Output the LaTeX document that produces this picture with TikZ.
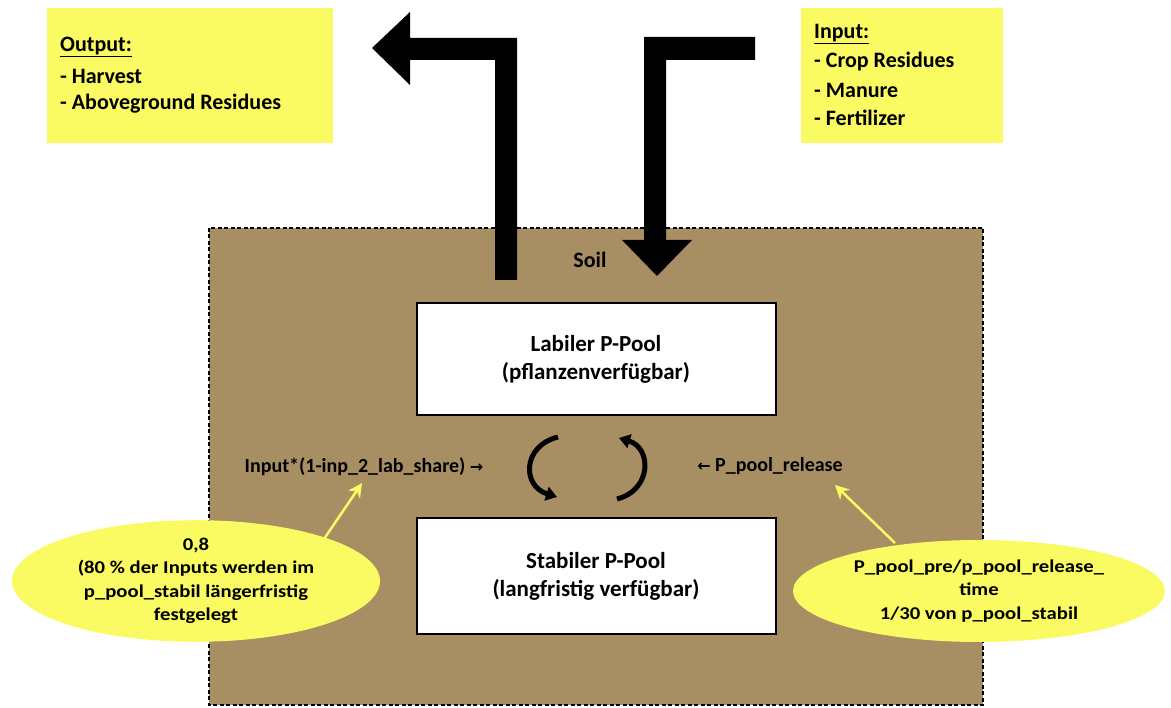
\documentclass[tikz,border=0pt]{standalone}
\usepackage{fontspec}
\setmainfont{Carlito}
\newfontfamily\widefont[FakeStretch=1.15]{Carlito}
\newfontfamily\arrowfont{DejaVu Sans}
\usetikzlibrary{shapes.geometric,arrows.meta}
\definecolor{soilbrown}{RGB}{168,143,99}
\definecolor{noteyellow}{RGB}{250,250,98}
\tikzset{
  notebox/.style={fill=noteyellow, inner sep=0pt},
  listtext/.style={anchor=west, font=\fontsize{22}{26}\selectfont\bfseries, inner sep=0pt},
  poolbox/.style={draw=black, line width=2pt, fill=white, minimum width=359pt, minimum height=112pt,
    align=center, font=\fontsize{23}{28}\selectfont\bfseries},
  flowlabel/.style={font=\fontsize{20}{24}\selectfont\bfseries, inner sep=1pt},
  noteellipse/.style={ellipse, fill=noteyellow, inner sep=0pt, align=center,
    font=\widefont\fontsize{18}{23.5}\selectfont\bfseries},
  blockarrow/.style={fill=black},
  cyclearrow/.style={line width=5pt, -{Triangle[length=11pt,width=14pt]}},
  pointer/.style={draw=noteyellow, line width=2.5pt, -{Stealth[length=14pt,width=14pt]}},
}
\begin{document}
\begin{tikzpicture}[x=1pt,y=-1pt]
\useasboundingbox (0,0) rectangle (1171,708);

% soil compartment
\draw[dash pattern=on 4pt off 2.5pt, line width=1.6pt, fill=soilbrown] (209,228) rectangle (983,705);
\node[font=\fontsize{22}{24}\selectfont\bfseries] (soil) at (590,260) {Soil};

% output and input lists
\fill[notebox] (47,8) rectangle (333,143);
\node[listtext] (outhead) at (60,47) {\underline{Output:}};
\node[listtext] (out1) at (60,76) {- Harvest};
\node[listtext] (out2) at (60,104) {- Aboveground Residues};

\fill[notebox] (801,8) rectangle (1003,143);
\node[listtext] (inhead) at (814,34) {\underline{Input:}};
\node[listtext] (in1) at (814,62) {- Crop Residues};
\node[listtext] (in2) at (814,90) {- Manure};
\node[listtext] (in3) at (814,118) {- Fertilizer};

% big flow arrows out of and into the soil
\fill[blockarrow] (495,280) -- (495,60) -- (410,60) -- (410,85) -- (372,48) -- (410,12)
  -- (410,38) -- (517,38) -- (517,280) -- cycle;
\fill[blockarrow] (755,37) -- (644,37) -- (644,240) -- (622,240) -- (657,276) -- (692,240)
  -- (666,240) -- (666,60) -- (755,60) -- cycle;

% phosphorus pools
\node[poolbox] (labil) at (596,359) {Labiler P-Pool\\(pflanzenverfügbar)};
\node[poolbox, minimum height=115pt] (stabil) at (596,576) {Stabiler P-Pool\\(langfristig verfügbar)};

% exchange between the pools
\coordinate (lt) at (558,437);
\coordinate (lb) at (557,497);
\coordinate (rb) at (617,499);
\coordinate (rt) at (619,438);
\draw[cyclearrow] (lt) .. controls (522,446) and (522,486) .. (lb);
\draw[cyclearrow] (rb) .. controls (652,490) and (652,448) .. (rt);

% flow labels
\node[flowlabel] (inlab) at (364,467) {Input*(1-inp\_2\_lab\_share) {\arrowfont\fontsize{16}{18}\selectfont →}};
\node[flowlabel] (rellab) at (770,466) {{\arrowfont\fontsize{16}{18}\selectfont ←} P\_pool\_release};

% parameter notes
\node[noteellipse, minimum width=368pt, minimum height=103pt] (leftnote) at (196,581)
  {0,8\\(80 \% der Inputs werden im\\p\_pool\_stabil längerfristig\\festgelegt};
\node[noteellipse, minimum width=372pt, minimum height=102pt] (rightnote) at (979,591)
  {P\_pool\_pre/p\_pool\_release\_\\time\\1/30 von p\_pool\_stabil};

\draw[pointer] ([shift={(126,-39)}]leftnote.center) -- ([shift={(-2,16)}]inlab.center);
\draw[pointer] ([shift={(-84,-48)}]rightnote.center) -- ([shift={(65,19)}]rellab.center);
\end{tikzpicture}
\end{document}
